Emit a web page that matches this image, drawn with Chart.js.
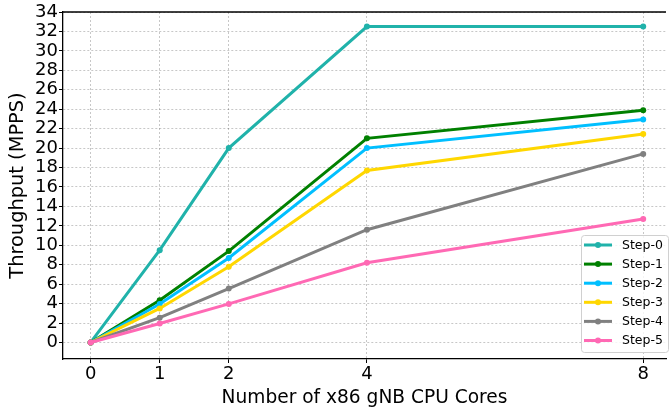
<!DOCTYPE html>
<html>
<head>
<meta charset="utf-8">
<script src="https://cdn.jsdelivr.net/npm/chart.js@4/dist/chart.umd.min.js"></script>
<style>
  html, body { margin: 0; padding: 0; background: #fff; }
  #chart { display: block; }
</style>
</head>
<body>
<canvas id="chart" width="669" height="411"></canvas>
<script>
const coreCounts = [0, 1, 2, 4, 8];
const seriesNames = ["Step-0", "Step-1", "Step-2", "Step-3", "Step-4", "Step-5"];
const step0 = [0, 9.5, 20.0, 32.5, 32.5];
const step1 = [0, 4.35, 9.4, 21.0, 23.9];
const step2 = [0, 3.95, 8.7, 20.0, 22.95];
const step3 = [0, 3.5, 7.8, 17.7, 21.45];
const step4 = [0, 2.55, 5.55, 11.6, 19.4];
const step5 = [0, 1.95, 3.97, 8.2, 12.7];
const yTicks = [0, 2, 4, 6, 8, 10, 12, 14, 16, 18, 20, 22, 24, 26, 28, 30, 32, 34];

const seriesValues = [step0, step1, step2, step3, step4, step5];
const colors = ["#20B2AA", "#008000", "#00BFFF", "#FFD700", "#808080", "#FF69B4"];

const FONT = "'DejaVu Sans', sans-serif";

function makeDataset(i) {
    return {
        label: seriesNames[i],
        data: coreCounts.map((x, k) => ({ x: x, y: seriesValues[i][k] })),
        borderColor: colors[i],
        backgroundColor: colors[i],
        borderWidth: 3,
        pointRadius: 3,
        pointHoverRadius: 3,
        pointBorderWidth: 0,
        tension: 0,
        fill: false,
        // later series drawn on top, like matplotlib
        order: seriesNames.length - i
    };
}

// top frame line of the axes box
const frameTop = {
    id: "frameTop",
    afterDatasetsDraw(chart) {
        const { ctx, chartArea } = chart;
        ctx.save();
        ctx.strokeStyle = "#000";
        ctx.lineWidth = 1.3;
        ctx.beginPath();
        ctx.moveTo(chartArea.left, chartArea.top);
        ctx.lineTo(chartArea.right, chartArea.top);
        ctx.stroke();
        ctx.restore();
    }
};

// matplotlib style legend in the lower right corner
const innerLegend = {
    id: "innerLegend",
    afterDraw(chart) {
        const ctx = chart.ctx;
        const x0 = 581, y0 = 235, w = 87, h = 117;
        ctx.save();
        ctx.beginPath();
        ctx.roundRect(x0 + 0.5, y0 + 0.5, w, h, 3);
        ctx.fillStyle = "rgba(255,255,255,0.8)";
        ctx.fill();
        ctx.strokeStyle = "#d0d0d0";
        ctx.lineWidth = 1;
        ctx.stroke();

        ctx.font = "12.5px " + FONT;
        ctx.textBaseline = "middle";
        ctx.textAlign = "left";
        seriesNames.forEach((name, i) => {
            const y = 245 + i * 19.1;
            ctx.strokeStyle = colors[i];
            ctx.lineWidth = 3;
            ctx.beginPath();
            ctx.moveTo(584, y);
            ctx.lineTo(612, y);
            ctx.stroke();
            ctx.fillStyle = colors[i];
            ctx.beginPath();
            ctx.arc(598, y, 3, 0, Math.PI * 2);
            ctx.fill();
            ctx.fillStyle = "#000";
            ctx.fillText(name, 622, y + 0.5);
        });
        ctx.restore();
    }
};

const gridStyle = {
    color: "rgba(0,0,0,0.22)",
    tickColor: "#000",
    tickBorderDash: [0, 0],
    tickLength: 4
};
const borderStyle = { color: "#000", width: 1.3, dash: [2, 2] };

const ctx = document.getElementById("chart").getContext("2d");
new Chart(ctx, {
    type: "line",
    data: {
        datasets: seriesNames.map((_, i) => makeDataset(i))
    },
    plugins: [frameTop, innerLegend],
    options: {
        responsive: false,
        animation: false,
        events: [],
        layout: { padding: { top: 12, right: 0, left: 0, bottom: 0 } },
        plugins: {
            legend: { display: false },
            tooltip: { enabled: false }
        },
        scales: {
            x: {
                type: "linear",
                min: -0.4,
                max: 8.33,
                afterBuildTicks: axis => { axis.ticks = coreCounts.map(v => ({ value: v })); },
                afterFit: axis => { axis.height = 52; },
                border: borderStyle,
                grid: gridStyle,
                ticks: {
                    color: "#000",
                    padding: 1,
                    maxRotation: 0,
                    autoSkip: false,
                    font: { family: FONT, size: 18 }
                },
                title: {
                    display: true,
                    text: "Number of x86 gNB CPU Cores",
                    color: "#000",
                    font: { family: FONT, size: 18.6 },
                    padding: { top: 0, bottom: 1.5 }
                }
            },
            y: {
                type: "linear",
                min: -1.7,
                max: 34,
                afterBuildTicks: axis => { axis.ticks = yTicks.map(v => ({ value: v })); },
                afterFit: axis => { axis.width = 63; },
                border: borderStyle,
                grid: gridStyle,
                ticks: {
                    color: "#000",
                    padding: 1,
                    autoSkip: false,
                    font: { family: FONT, size: 18 }
                },
                title: {
                    display: true,
                    text: "Throughput (MPPS)",
                    color: "#000",
                    font: { family: FONT, size: 19.4 },
                    padding: { top: 6, bottom: 0 }
                }
            }
        }
    }
});
</script>
</body>
</html>
